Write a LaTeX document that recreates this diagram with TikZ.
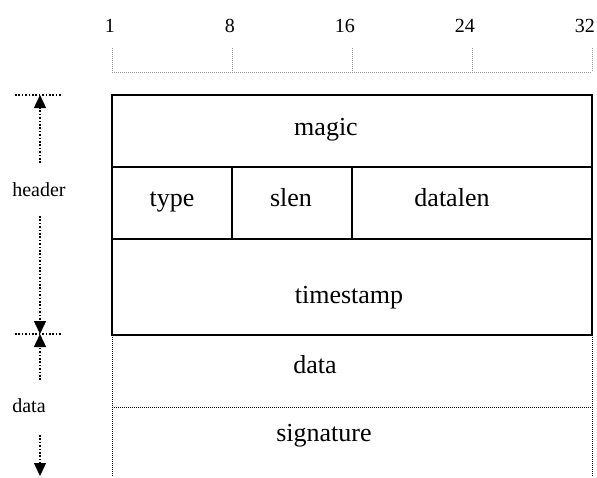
\documentclass[tikz,border=0pt]{standalone}
\usepackage{fontspec}
\setmainfont{Liberation Serif}
\usetikzlibrary{arrows.meta}
\tikzset{
  big/.style={font=\fontsize{26}{30}\selectfont, anchor=base, inner sep=0pt},
  small/.style={font=\fontsize{20}{24}\selectfont, anchor=base, inner sep=0pt},
  tick/.style={draw=gray!80, line width=0.6pt, dash pattern=on 1pt off 1pt},
  frame/.style={draw=black, line width=2pt},
  dotline/.style={draw=black, line width=1pt, dash pattern=on 1pt off 1pt},
  guide/.style={draw=black, line width=1.4pt, dash pattern=on 1.6pt off 1.8pt},
  arr/.style={guide, -{Triangle[length=13pt,width=12pt]}}
}
\begin{document}
\begin{tikzpicture}[x=1pt,y=-1pt]
\useasboundingbox (0,0) rectangle (597,477);
% ruler
\foreach \n/\x in {1/112,8/232,16/352,24/472,32/592}{
  \node[small, anchor=base east] (r\n) at (\x+3,32) {\n};
  \coordinate (t\n) at (\x,48);
  \coordinate (b\n) at (\x,72);
  \draw[tick] (t\n) -- (b\n);
}
\draw[tick] (b1) -- (b32);
% header box
\coordinate (A) at (112,95);
\coordinate (B) at (592,95);
\coordinate (C) at (592,335);
\coordinate (D) at (112,335);
\coordinate (r1l) at (112,167); \coordinate (r1r) at (592,167);
\coordinate (r2l) at (112,239); \coordinate (r2r) at (592,239);
\coordinate (v1t) at (232,167); \coordinate (v1b) at (232,239);
\coordinate (v2t) at (352,167); \coordinate (v2b) at (352,239);
\draw[frame] (A) -- (B) -- (C) -- (D) -- cycle;
\draw[frame] (r1l) -- (r1r);
\draw[frame] (r2l) -- (r2r);
\draw[frame] (v1t) -- (v1b);
\draw[frame] (v2t) -- (v2b);
% data area
\coordinate (E) at (112,477);
\coordinate (F) at (592,477);
\coordinate (sl) at (112,407);
\coordinate (sr) at (592,407);
\draw[dotline] (D) -- (E);
\draw[dotline] (C) -- (F);
\draw[dotline] (sl) -- (sr);
% texts
\node[big] (magic) at (326,135) {magic};
\node[big] (type) at (172,206) {type};
\node[big] (slen) at (291,206) {slen};
\node[big] (datalen) at (452,206) {datalen};
\node[big] (timestamp) at (349,303) {timestamp};
\node[big] (data) at (315,373) {data};
\node[big] (signature) at (324,441) {signature};
% left side
\node[small] (header) at (39,196) {header};
\node[small] (dataL) at (29,412) {data};
\coordinate (g1l) at (15,95); \coordinate (g1r) at (62,95);
\coordinate (g2l) at (15,334); \coordinate (g2r) at (62,334);
\draw[guide] (g1l) -- (g1r);
\draw[guide] (g2l) -- (g2r);
\coordinate (h1) at (40,163); \coordinate (h1t) at (40,95);
\coordinate (h2) at (40,216); \coordinate (h2t) at (40,334);
\coordinate (d1) at (40,380); \coordinate (d1t) at (40,334);
\coordinate (d2) at (40,435); \coordinate (d2t) at (40,476);
\draw[arr] (h1) -- (h1t);
\draw[arr] (h2) -- (h2t);
\draw[arr] (d1) -- (d1t);
\draw[arr] (d2) -- (d2t);
\end{tikzpicture}
\end{document}
